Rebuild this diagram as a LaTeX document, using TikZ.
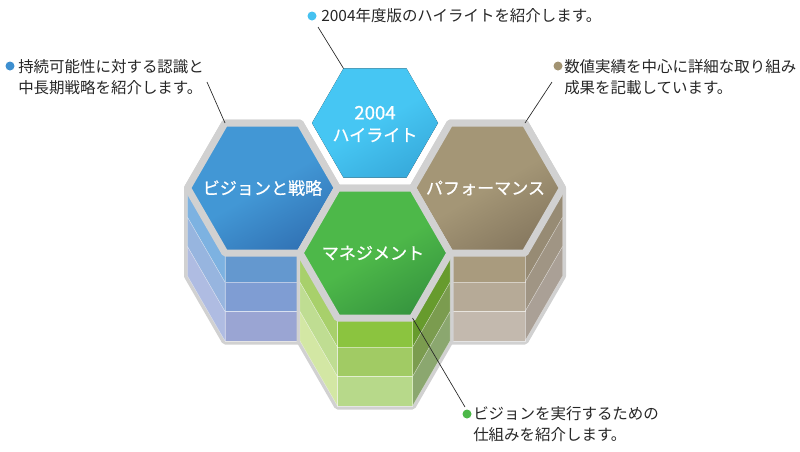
\documentclass[tikz,border=0pt]{standalone}
\usepackage{fontspec}
\newfontfamily\jp{Noto Sans CJK JP}
\newfontfamily\jphex{Noto Sans CJK JP}[FakeBold=0.7]

% hexagon tops
\definecolor{rimgray}{RGB}{209,209,209}
\definecolor{hlTop}{HTML}{46C6F3}
\definecolor{hlDark}{HTML}{38ACDD}
\definecolor{visTop}{HTML}{4297D5}
\definecolor{visDark}{HTML}{3274B6}
\definecolor{mgtTop}{HTML}{4DB849}
\definecolor{mgtDark}{HTML}{37963F}
\definecolor{perfTop}{HTML}{A49676}
\definecolor{perfDark}{HTML}{877960}
% prism faces
\definecolor{visF1}{HTML}{6498CF}
\definecolor{visF2}{HTML}{7F9DD3}
\definecolor{visF3}{HTML}{9AA5D3}
\definecolor{visL1}{HTML}{7DB2E1}
\definecolor{visL2}{HTML}{97B5DF}
\definecolor{visL3}{HTML}{AFBCE2}
\definecolor{mgtF1}{HTML}{8BC43F}
\definecolor{mgtF2}{HTML}{A1CB64}
\definecolor{mgtF3}{HTML}{B7D98A}
\definecolor{mgtL1}{HTML}{A8D06B}
\definecolor{mgtL2}{HTML}{BFDD92}
\definecolor{mgtL3}{HTML}{D3E7A4}
\definecolor{mgtR1}{HTML}{679B2D}
\definecolor{mgtR2}{HTML}{7B9C4F}
\definecolor{mgtR3}{HTML}{8BA76F}
\definecolor{perfF1}{HTML}{A99B7E}
\definecolor{perfF2}{HTML}{B6AA97}
\definecolor{perfF3}{HTML}{C3B9AE}
\definecolor{perfR1}{HTML}{978B74}
\definecolor{perfR2}{HTML}{A09584}
\definecolor{perfR3}{HTML}{AAA096}
% bullets
\definecolor{dotHl}{HTML}{45C1F0}
\definecolor{dotVis}{HTML}{3D8FD0}
\definecolor{dotMgt}{HTML}{4CB848}
\definecolor{dotPerf}{HTML}{A29372}

\begin{document}
\begin{tikzpicture}
	[x=0.75pt,y=-0.75pt,
	rim/.style={draw=rimgray, line width=5.25pt, line join=round},
	band/.style={draw=white, draw opacity=.45, line width=.3pt},
	hexlabel/.style={text=white, align=center, inner sep=0,
		font=\jphex\fontsize{12.8}{16.5}\selectfont},
	note/.style={anchor=west, align=left, inner sep=0, text=black!85,
		font=\jp\fontsize{11.6}{15.75}\selectfont},
	dot/.style={circle, inner sep=0, minimum size=6.75pt},
	leader/.style={draw=black!85, line width=.5pt}]
	\useasboundingbox (0,0) rectangle (800,451);

	%% 2004 highlights, no prism
	\begin{scope}[shift={(375,123)}]
		\fill[top color=hlTop, bottom color=hlDark, middle color=hlTop,
			shading angle=30]
			(-63,0) -- (-31.5,-54.6) -- (31.5,-54.6) -- (63,0)
			-- (31.5,54.6) -- (-31.5,54.6) -- cycle;
		\coordinate (hl-tl) at (-31.5,-54.6);
		\node[hexlabel] (hl) at (0,1) {\fontsize{14}{16.5}\selectfont 2004\\ハイライト};
	\end{scope}

	%% vision prism
	\begin{scope}[shift={(262.5,188)}]
		\filldraw[rim, fill=rimgray] (-75,0) -- (-37.5,-65) -- (37.5,-65)
			-- (75,0) -- (37.5,65) -- (37.5,153) -- (-37.5,153) -- (-75,88) -- cycle;
		\foreach \c [count=\i from 0] in {visL1,visL2,visL3}
			\fill[band, fill=\c] (-75,\i*29.33) -- (-37.5,65+\i*29.33)
				-- (-37.5,94.33+\i*29.33) -- (-75,29.33+\i*29.33) -- cycle;
		\foreach \c [count=\i from 0] in {visF1,visF2,visF3}
			\filldraw[band, fill=\c] (-37.5,65+\i*29.33) rectangle (37.5,94.33+\i*29.33);
		\draw[rim, top color=visTop, bottom color=visDark, middle color=visTop,
			shading angle=30]
			(-75,0) -- (-37.5,-65) -- (37.5,-65) -- (75,0)
			-- (37.5,65) -- (-37.5,65) -- cycle;
		\coordinate (vis-tl) at (-37.5,-65);
		\node[hexlabel] (vis) at (0,0) {ビジョンと戦略};
	\end{scope}

	%% performance prism
	\begin{scope}[shift={(487.5,188)}]
		\filldraw[rim, fill=rimgray] (-75,0) -- (-37.5,-65) -- (37.5,-65)
			-- (75,0) -- (75,88) -- (37.5,153) -- (-37.5,153) -- (-37.5,65) -- cycle;
		\foreach \c [count=\i from 0] in {perfR1,perfR2,perfR3}
			\filldraw[band, fill=\c] (75,\i*29.33) -- (37.5,65+\i*29.33)
				-- (37.5,94.33+\i*29.33) -- (75,29.33+\i*29.33) -- cycle;
		\foreach \c [count=\i from 0] in {perfF1,perfF2,perfF3}
			\filldraw[band, fill=\c] (-37.5,65+\i*29.33) rectangle (37.5,94.33+\i*29.33);
		\draw[rim, top color=perfTop, bottom color=perfDark, middle color=perfTop,
			shading angle=30]
			(-75,0) -- (-37.5,-65) -- (37.5,-65) -- (75,0)
			-- (37.5,65) -- (-37.5,65) -- cycle;
		\coordinate (perf-tr) at (37.5,-65);
		\node[hexlabel] (perf) at (-2,0) {パフォーマンス};
	\end{scope}

	%% management prism, in front
	\begin{scope}[shift={(375,253)}]
		\filldraw[rim, fill=rimgray] (-75,0) -- (-37.5,-65) -- (37.5,-65)
			-- (75,0) -- (75,88) -- (37.5,153) -- (-37.5,153) -- (-75,88) -- cycle;
		\foreach \c [count=\i from 0] in {mgtL1,mgtL2,mgtL3}
			\filldraw[band, fill=\c] (-75,\i*29.33) -- (-37.5,65+\i*29.33)
				-- (-37.5,94.33+\i*29.33) -- (-75,29.33+\i*29.33) -- cycle;
		\foreach \c [count=\i from 0] in {mgtR1,mgtR2,mgtR3}
			\filldraw[band, fill=\c] (75,\i*29.33) -- (37.5,65+\i*29.33)
				-- (37.5,94.33+\i*29.33) -- (75,29.33+\i*29.33) -- cycle;
		\foreach \c [count=\i from 0] in {mgtF1,mgtF2,mgtF3}
			\filldraw[band, fill=\c] (-37.5,65+\i*29.33) rectangle (37.5,94.33+\i*29.33);
		\draw[rim, top color=mgtTop, bottom color=mgtDark, middle color=mgtTop,
			shading angle=30]
			(-75,0) -- (-37.5,-65) -- (37.5,-65) -- (75,0)
			-- (37.5,65) -- (-37.5,65) -- cycle;
		\coordinate (mgt-br) at (37.5,65);
		\node[hexlabel] (mgt) at (-2,0) {マネジメント};
	\end{scope}

	%% notes
	\node[dot, fill=dotHl] (dot-hl) at (312,16) {};
	\node[note] (note-hl) at (321,16) {2004年度版のハイライトを紹介します。};

	\node[dot, fill=dotVis] (dot-vis) at (10,66) {};
	\node[note] (note-vis) at (18,77)
		{持続可能性に対する認識と\\中長期戦略を紹介します。};

	\node[dot, fill=dotPerf] (dot-perf) at (558,66) {};
	\node[note] (note-perf) at (564,77)
		{数値実績を中心に詳細な取り組み\\成果を記載しています。};

	\node[dot, fill=dotMgt] (dot-mgt) at (467,414) {};
	\node[note] (note-mgt) at (473,424.5)
		{ビジョンを実行するための\\仕組みを紹介します。};

	%% leaders
	\coordinate (lead-hl) at (318,27);
	\coordinate (lead-vis) at (207,82);
	\coordinate (lead-perf) at (552,82);
	\coordinate (lead-mgt) at (465,407);

	\foreach \from/\to in {lead-hl/hl-tl,lead-vis/vis-tl,
		lead-perf/perf-tr,mgt-br/lead-mgt}
		\draw[leader] (\from) -- (\to);
\end{tikzpicture}
\end{document}
